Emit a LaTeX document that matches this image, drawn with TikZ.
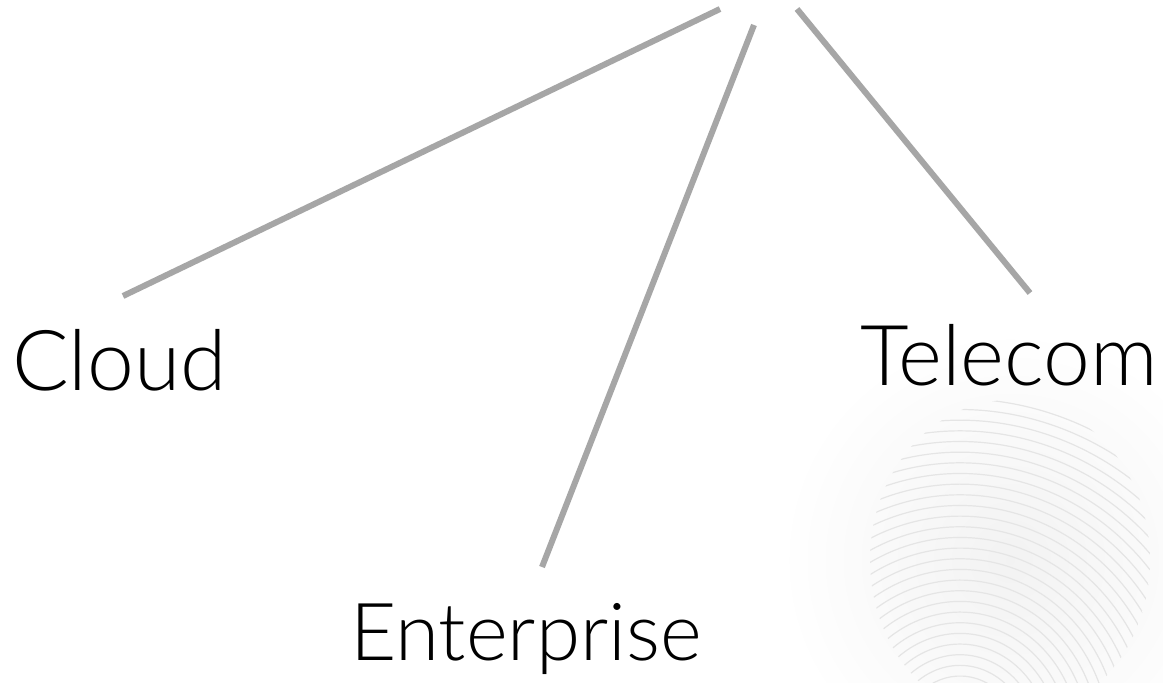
\documentclass[tikz,border=0pt]{standalone}
\usepackage{fontspec}
\setmainfont{Lato}[UprightFont=* Light]
\tikzset{
  conn/.style={draw=black!35, line width=6pt},
  lbl/.style={inner sep=0pt, anchor=base west, font=\fontsize{84}{90}\selectfont, text=black},
  ridge/.style={draw=black!10, line width=1.2pt}
}
\begin{document}
\begin{tikzpicture}[x=1pt,y=-1pt]
\useasboundingbox (0,0) rectangle (1163,683);
\fill[white] (0,0) rectangle (1163,683);
\begin{scope}
\clip (0,0) rectangle (1163,683);
\shade[inner color=black!5, outer color=white] (1010,560) circle[radius=230];
% faint fingerprint texture
\clip (1010,560) ellipse[x radius=140, y radius=160];
\foreach \r in {30,40,...,330}{
  \draw[ridge] (960,740) ++(200:\r) arc[start angle=200, end angle=340, x radius=\r, y radius=1.1*\r];
}
\end{scope}
% hub ends
\coordinate (h1) at (720,9);
\coordinate (h2) at (754,25);
\coordinate (h3) at (797,9);
% label-side ends
\coordinate (e1) at (123,296);
\coordinate (e2) at (542,567);
\coordinate (e3) at (1030,293);
\node[lbl] (cloud) at (12,390) {Cloud};
\node[lbl] (telecom) at (860,385) {Telecom};
\node[lbl, font=\fontsize{80}{90}\selectfont] (enterprise) at (350,660) {Enterprise};
\draw[conn] (h1) -- (e1);
\draw[conn] (h2) -- (e2);
\draw[conn] (h3) -- (e3);
\end{tikzpicture}
\end{document}
